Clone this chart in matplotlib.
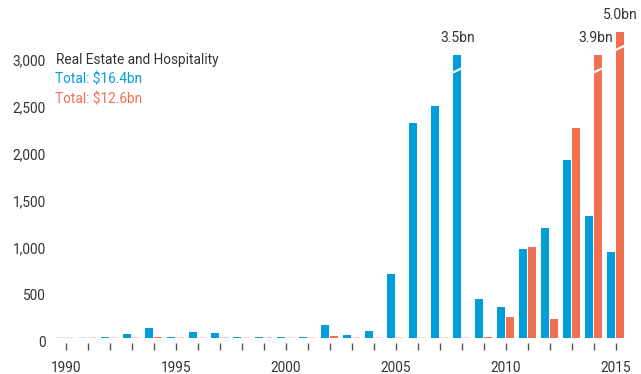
"""Real Estate and Hospitality deal values by year, two series, with broken tall bars."""
import matplotlib
matplotlib.use("Agg")
import matplotlib.pyplot as plt
import matplotlib.transforms as mtransforms

years = list(range(1990, 2016))
blue_values = [0, 0, 15, 38, 110, 15, 67, 56, 15, 15, 15, 15, 135, 29, 71,
               677, 2283, 2463, 3500, 411, 326, 946, 1166, 1889, 1294, 911]
orange_values = [0, 0, 0, 0, 15, 0, 0, 0, 0, 0, 0, 0, 18, 0, 0,
                 0, 0, 0, 0, 15, 220, 964, 199, 2229, 3900, 5000]

# bars too tall for the axis are drawn cut off at these heights
blue_cut = {2008: 3010}
orange_cut = {2014: 3010, 2015: 3250}
blue_labels = {2008: "3.5bn"}
orange_labels = {2014: "3.9bn", 2015: "5.0bn"}

title = "Real Estate and Hospitality"
blue_total = "Total: $16.4bn"
orange_total = "Total: $12.6bn"

BLUE = "#009FDB"
ORANGE = "#F27052"
BLUE_ZERO = "#C6E8F6"
ORANGE_ZERO = "#FCD8CF"
TEXT = "#333333"

plt.rcParams["font.family"] = ["Roboto", "DejaVu Sans"]

fig = plt.figure(figsize=(6.41, 3.74), dpi=100)
ax = fig.add_axes([50 / 641, 31 / 374, 582 / 641, 333 / 374])

W = 0.36
ZERO_H = 14


def draw(vals, cuts, offset, color, zero_color):
    for yr, v in zip(years, vals):
        h = cuts.get(yr, v)
        if v == 0:
            ax.bar(yr + offset, ZERO_H, width=W, color=zero_color, linewidth=0)
        else:
            ax.bar(yr + offset, h, width=W, color=color, linewidth=0)
        if yr in cuts:
            x0, x1 = yr + offset - W / 2 - 0.02, yr + offset + W / 2 + 0.02
            yb = h - 165
            ax.plot([x0, x1], [yb - 22, yb + 22], color="white", lw=1.6,
                    solid_capstyle="butt", zorder=3)


draw(blue_values, blue_cut, -0.2, BLUE, BLUE_ZERO)
draw(orange_values, orange_cut, 0.2, ORANGE, ORANGE_ZERO)

for yr, s in blue_labels.items():
    ax.text(yr - 0.2, blue_cut[yr] + 180, s, ha="center", va="center",
            fontsize=10, color=TEXT)
for yr, s in orange_labels.items():
    dx = -0.12 if yr == 2014 else 0.0
    ax.text(yr + 0.2 + dx, orange_cut[yr] + 180, s, ha="center", va="center",
            fontsize=10, color=TEXT)

ax.text(1989.55, 2955, title, ha="left", va="center", fontsize=9.8, color=TEXT)
ax.text(1989.5, 2745, blue_total, ha="left", va="center", fontsize=9.8,
        color=BLUE)
ax.text(1989.5, 2535, orange_total, ha="left", va="center", fontsize=9.8,
        color=ORANGE)

ax.set_xlim(1989.286, 2015.74)
ax.set_ylim(-53, 3487)

ax.set_yticks([0, 500, 1000, 1500, 2000, 2500, 3000])
ax.set_yticklabels(["0", "500", "1,000", "1,500", "2,000", "2,500", "3,000"])
ax.set_xticks(years)
ax.set_xticklabels([str(y) if y % 5 == 0 else "" for y in years])

ax.tick_params(axis="y", length=0, pad=3, labelsize=9.8, labelcolor=TEXT)
ax.tick_params(axis="x", length=5, width=1, color="#555555", pad=8,
               labelsize=9.8, labelcolor=TEXT)
shift = mtransforms.ScaledTranslation(0, -3.5 / 100, fig.dpi_scale_trans)
for lab in ax.get_yticklabels():
    lab.set_transform(lab.get_transform() + shift)

for s in ax.spines.values():
    s.set_visible(False)

fig.savefig("out.png", dpi=100, facecolor="white")
